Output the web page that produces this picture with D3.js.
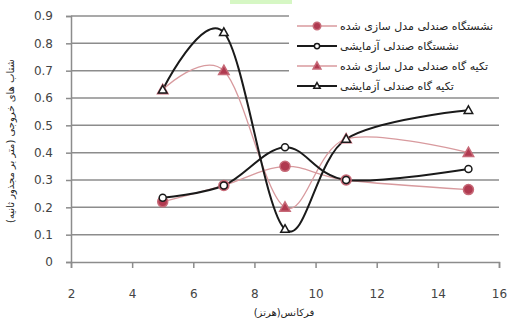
<!DOCTYPE html>
<html>
<head>
<meta charset="utf-8">
<script src="https://cdn.jsdelivr.net/npm/d3@7"></script>
<style>
  body { margin: 0; background: #fff; }
  svg { display: block; }
</style>
</head>
<body>
<div id="chart"></div>
<script>
// frequency (Hz)
const freq = [5, 7, 9, 11, 15];

// output accelerations, one array per series
const seatModel = [0.22, 0.28, 0.35, 0.30, 0.265];
const seatTest = [0.235, 0.28, 0.42, 0.30, 0.34];
const backModel = [0.63, 0.70, 0.20, 0.45, 0.40];
const backTest = [0.63, 0.84, 0.12, 0.45, 0.555];

const seriesNames = [
  "نشستگاه صندلی مدل سازی شده",
  "نشستگاه صندلی آزمایشی",
  "تکیه گاه صندلی مدل سازی شده",
  "تکیه گاه صندلی آزمایشی"
];

const xTicks = [2, 4, 6, 8, 10, 12, 14, 16];
const yTicks = [0, 0.1, 0.2, 0.3, 0.4, 0.5, 0.6, 0.7, 0.8, 0.9];

const xTitle = "فرکانس(هرتز)";
const yTitle = "شتاب های خروجی (متر بر مجذور ثانیه)";

// ---- chart setup
const W = 507, H = 322;
const margin = {top: 16, right: 8, bottom: 60, left: 71};
const width = 499 - margin.left;
const height = 262 - margin.top;

const svg = d3.select("#chart").append("svg")
    .attr("width", W)
    .attr("height", H);

// small green strip at the top
svg.append("rect")
    .attr("x", 230).attr("y", 0)
    .attr("width", 62).attr("height", 4)
    .attr("fill", "#d6f7c4");

const g = svg.append("g")
    .attr("transform", "translate(" + margin.left + "," + margin.top + ")");

const x = d3.scaleLinear().domain([2, 16]).range([0, width]);
const y = d3.scaleLinear().domain([0, 0.9]).range([height, 0]);

// gridlines
g.append("g")
    .selectAll("line")
    .data(yTicks.filter(d => d > 0))
    .join("line")
    .attr("x1", 0)
    .attr("x2", width)
    .attr("y1", d => y(d))
    .attr("y2", d => y(d))
    .attr("stroke", "#8c8c8c")
    .attr("stroke-width", 1.5);

// axes
const yAxis = g.append("g")
    .call(d3.axisLeft(y).tickValues(yTicks).tickFormat(d3.format("")).tickSize(5).tickPadding(13));
const xAxis = g.append("g")
    .attr("transform", "translate(0," + height + ")")
    .call(d3.axisBottom(x).tickValues(xTicks).tickSize(6).tickPadding(21));

[yAxis, xAxis].forEach(a => {
    a.select(".domain").attr("stroke", "#8c8c8c").attr("stroke-width", 1.5);
    a.selectAll(".tick line").attr("stroke", "#8c8c8c").attr("stroke-width", 1.5);
    a.selectAll("text")
        .attr("fill", "#444")
        .style("font-family", "DejaVu Sans, sans-serif")
        .style("font-size", "12px");
});

// series
const series = [
    {name: seriesNames[0], values: seatModel, color: "#d89a9e", width: 1.3, shape: "circle", fill: "#b03a50", stroke: "#c76a78", r: 5},
    {name: seriesNames[1], values: seatTest, color: "#1a1a1a", width: 2, shape: "circle", fill: "#fff", stroke: "#1a1a1a", r: 3.5},
    {name: seriesNames[2], values: backModel, color: "#d89a9e", width: 1.3, shape: "triangle", fill: "#b03a50", stroke: "#c76a78", r: 5.5},
    {name: seriesNames[3], values: backTest, color: "#1a1a1a", width: 2, shape: "triangle", fill: "#fff", stroke: "#1a1a1a", r: 4.5}
];

const line = d3.line()
    .x((d, i) => x(freq[i]))
    .y(d => y(d))
    .curve(d3.curveCardinal.tension(0));

function drawMarker(sel, s) {
    if (s.shape === "circle") {
        sel.append("circle")
            .attr("r", s.r)
            .attr("fill", s.fill)
            .attr("stroke", s.stroke)
            .attr("stroke-width", 1.5);
    } else {
        const r = s.r;
        sel.append("path")
            .attr("d", "M0," + (-r) + "L" + (r * 0.95) + "," + (r * 0.7) + "L" + (-r * 0.95) + "," + (r * 0.7) + "Z")
            .attr("fill", s.fill)
            .attr("stroke", s.stroke)
            .attr("stroke-width", 1.5);
    }
}

// draw order: pink ones first, then black
[series[2], series[0], series[3], series[1]].forEach(s => {
    g.append("path")
        .datum(s.values)
        .attr("d", line)
        .attr("fill", "none")
        .attr("stroke", s.color)
        .attr("stroke-width", s.width);
});
[series[2], series[0], series[3], series[1]].forEach(s => {
    g.append("g")
        .selectAll("g")
        .data(s.values)
        .join("g")
        .attr("transform", (d, i) => "translate(" + x(freq[i]) + "," + y(d) + ")")
        .each(function() { drawMarker(d3.select(this), s); });
});

// legend
const legend = svg.append("g").attr("transform", "translate(289,14)");
legend.append("rect")
    .attr("x", 0).attr("y", 0)
    .attr("width", 215).attr("height", 82)
    .attr("fill", "#fff");

const rows = legend.selectAll("g.row")
    .data(series)
    .join("g")
    .attr("class", "row")
    .attr("transform", (d, i) => "translate(0," + (12 + i * 20) + ")");

rows.append("line")
    .attr("x1", 8).attr("x2", 48)
    .attr("stroke", d => d.color)
    .attr("stroke-width", d => d.width);
rows.each(function(s) {
    const m = d3.select(this).append("g").attr("transform", "translate(28,0)");
    drawMarker(m, Object.assign({}, s, {r: s.r * 0.75}));
});
rows.append("text")
    .attr("x", 51)
    .attr("y", 4)
    .attr("fill", "#222")
    .style("font-family", "DejaVu Sans, sans-serif")
    .style("font-size", "11px")
    .text(d => d.name);

// axis titles
svg.append("text")
    .attr("x", 284)
    .attr("y", 316)
    .attr("text-anchor", "middle")
    .attr("fill", "#222")
    .style("font-family", "DejaVu Sans, sans-serif")
    .style("font-size", "10px")
    .text(xTitle);

svg.append("text")
    .attr("transform", "translate(14,141) rotate(-90)")
    .attr("text-anchor", "middle")
    .attr("fill", "#222")
    .style("font-family", "DejaVu Sans, sans-serif")
    .style("font-size", "10px")
    .text(yTitle);
</script>
</body>
</html>
